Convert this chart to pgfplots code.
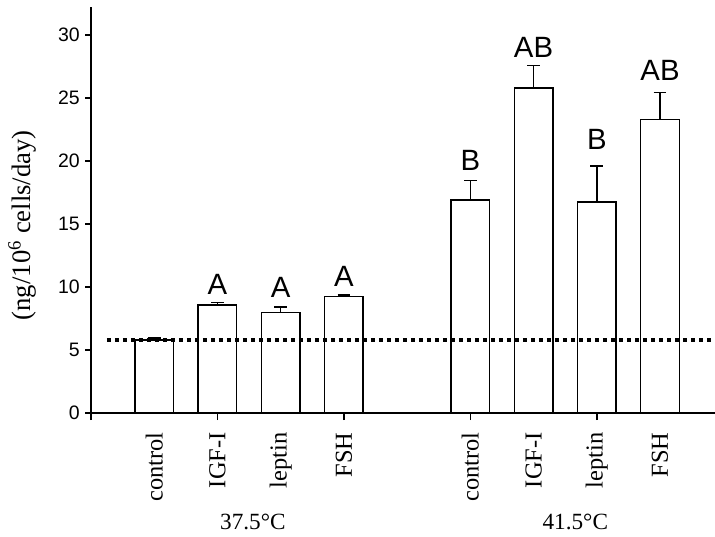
\documentclass[border=0pt]{standalone}
\usepackage{pgfplots}
\pgfplotsset{compat=1.18}
\usepackage{fontspec}
\setmainfont{Liberation Serif}
\newfontfamily\arialfont{Liberation Sans}
\begin{document}
\begin{tikzpicture}
\begin{axis}[
  x=47.4pt, y=9.45pt,
  xmin=0, xmax=9.87, ymin=0, ymax=32.2,
  axis lines*=left,
  axis line style={line width=1.3pt, black},
  clip=false,
  ytick={0,5,...,30},
  xtick={1,2,3,4,6,7,8,9},
  xticklabels={control,IGF-I,leptin,FSH,control,IGF-I,leptin,FSH},
  minor xtick={0,2,4,6,8},
  major x tick style={draw=none},
  minor x tick style={line width=1.1pt, black},
  major y tick style={line width=1.1pt, black},
  tick align=outside,
  major tick length=4.3pt,
  minor tick length=5.25pt,
  /pgf/number format/assume math mode=true,
  yticklabel style={font=\arialfont\fontsize{14.6}{16}\selectfont, inner sep=0pt},
  yticklabel shift=4pt,
  xticklabel style={font=\fontsize{18.3}{20}\selectfont, rotate=90, anchor=east, inner sep=0pt},
  xticklabel shift=10pt,
  ylabel={(ng/10\textsuperscript{6} cells/day)},
  ylabel style={font=\fontsize{20}{22}\selectfont, at={(axis description cs:-0.11,0.463)}, anchor=center},
]
\addplot[ybar, bar width=28.9pt, fill=white, draw=black, line width=1.1pt,
  error bars/.cd, y dir=plus, y explicit,
  error bar style={line width=1.1pt, black},
  error mark options={rotate=90, mark size=4.75pt, line width=1.1pt, black}]
  coordinates {
  (1,5.8) +- (0,0.17)
  (2,8.6) +- (0,0.17)
  (3,7.97) +- (0,0.45)
  (4,9.27) +- (0,0.1)
  (6,16.9) +- (0,1.55)
  (7,25.8) +- (0,1.8)
  (8,16.75) +- (0,2.85)
  (9,23.3) +- (0,2.15)
  };
\addplot[line width=2.4pt, dash pattern=on 3pt off 3pt, black] coordinates {(0.25,5.8) (9.87,5.8)};
\begin{scope}[every node/.style={font=\arialfont\fontsize{22}{24}\selectfont, inner sep=0pt}]
\node at (axis cs:2,10.2) {A};
\node at (axis cs:3,9.95) {A};
\node at (axis cs:4,10.87) {A};
\node at (axis cs:6,20.06) {B};
\node at (axis cs:7,29.05) {AB};
\node at (axis cs:8,21.7) {B};
\node at (axis cs:9,27.2) {AB};
\end{scope}
\node[font=\fontsize{17.4}{20}\selectfont, inner sep=0pt] at (axis cs:2.56,-8.6) {37.5°C};
\node[font=\fontsize{17.4}{20}\selectfont, inner sep=0pt] at (axis cs:7.66,-8.6) {41.5°C};
\end{axis}
\pgfresetboundingbox
\path (current axis.south west) ++(-68.25pt,-92.25pt) rectangle ([yshift=5.5pt]current axis.north east);
\end{tikzpicture}
\end{document}
